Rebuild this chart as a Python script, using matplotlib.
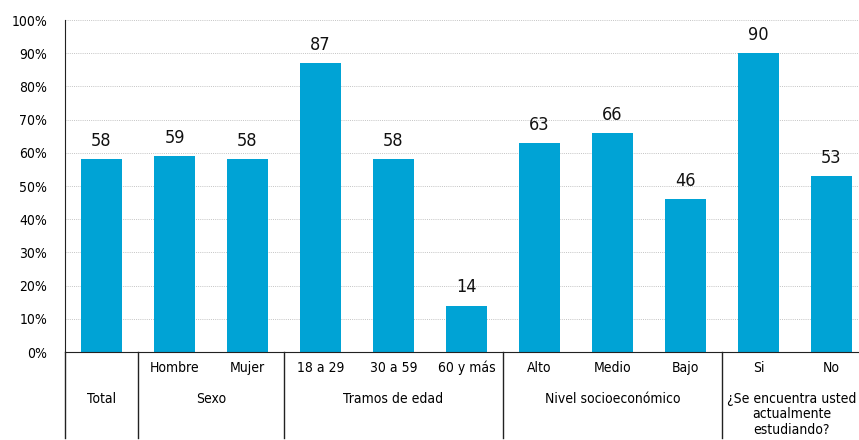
import matplotlib.pyplot as plt
import numpy as np

plt.rcParams['font.family'] = ['DejaVu Sans']
plt.rcParams['font.stretch'] = 'condensed'

# data
labels = ['Total', 'Hombre', 'Mujer', '18 a 29', '30 a 59', '60 y más',
          'Alto', 'Medio', 'Bajo', 'Si', 'No']
values = [58, 59, 58, 87, 58, 14, 63, 66, 46, 90, 53]
tick_labels = ['', 'Hombre', 'Mujer', '18 a 29', '30 a 59', '60 y más',
               'Alto', 'Medio', 'Bajo', 'Si', 'No']
groups = ['Total', 'Sexo', 'Tramos de edad', 'Nivel socioeconómico',
          '¿Se encuentra usted\nactualmente\nestudiando?']
group_sizes = [1, 2, 3, 3, 2]

bar_color = '#00a3d5'

fig = plt.figure(figsize=(8.59, 4.40), dpi=100)
ax = fig.add_axes([65 / 859, 88 / 440, 803 / 859, 332 / 440])

x = np.arange(len(values))
bars = ax.bar(x, values, width=0.575, color=bar_color, zorder=2)

for xi, v in zip(x, values):
    ax.annotate(str(v), (xi, v), xytext=(0, 6.5), textcoords='offset points',
                ha='center', va='bottom', fontsize=13, color='#111111')

ax.set_xlim(-0.5, len(values) - 0.5)
ax.set_ylim(0, 100)
ax.set_yticks(np.arange(0, 101, 10))
ax.set_yticklabels([f'{t}%' for t in range(0, 101, 10)], fontsize=10)
ax.tick_params(axis='y', length=0, pad=13)
ax.set_xticks([])

ax.grid(axis='y', linestyle=(0, (1, 1.2)), color='#c4c4c4', linewidth=0.7, zorder=0)
ax.set_axisbelow(True)

for s in ['top', 'right']:
    ax.spines[s].set_visible(False)
ax.spines['left'].set_color('#222222')
ax.spines['bottom'].set_color('#222222')

trans = ax.get_xaxis_transform()

# row of category labels
for xi, t in zip(x, tick_labels):
    ax.text(xi, -0.048, t, transform=trans, ha='center', va='center', fontsize=10)

# group labels and separators
start = 0
seps = [-0.5]
for g, n in zip(groups, group_sizes):
    center = start + (n - 1) / 2
    if '\n' in g:
        ax.text(center - 0.05, -0.12, g, transform=trans, ha='center', va='top',
                fontsize=10, linespacing=1.15)
    else:
        ax.text(center, -0.142, g, transform=trans, ha='center', va='center',
                fontsize=10)
    start += n
    seps.append(start - 0.5)

for s in seps[:-1]:
    ax.plot([s, s], [0, -0.26], transform=trans, color='#222222',
            linewidth=1.0, clip_on=False)

fig.savefig('out.png', dpi=100)
